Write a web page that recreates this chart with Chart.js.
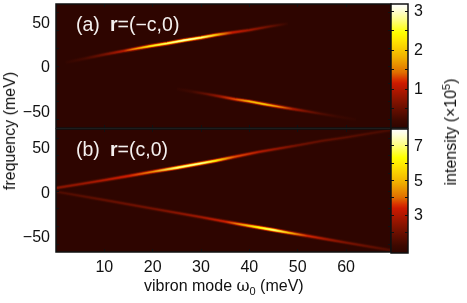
<!DOCTYPE html>
<html>
<head>
<meta charset="utf-8">
<script src="https://cdn.jsdelivr.net/npm/chart.js@4"></script>
<style>
  body { margin: 0; background: #fff; width: 467px; height: 303px; overflow: hidden; position: relative; font-family: "Liberation Sans", sans-serif; color: #111; }
  canvas { position: absolute; }
  .label { position: absolute; font-size: 16px; white-space: nowrap; line-height: 18px; }
  .panel { color: #f4f0ee; font-size: 19.5px; }
  .rot { transform: translate(-50%, -50%) rotate(-90deg); }
  .greek { font-family: "DejaVu Serif", serif; font-size: 16px; }
  sub, sup { font-size: 11px; line-height: 0; }
</style>
</head>
<body>
<canvas id="panelA" width="393" height="130" style="left:0px;top:0px"></canvas>
<canvas id="panelB" width="393" height="155" style="left:0px;top:125px"></canvas>
<canvas id="barA" width="78" height="130" style="left:389px;top:0px"></canvas>
<canvas id="barB" width="78" height="130" style="left:389px;top:125px"></canvas>

<div class="label panel" style="left:76px;top:15px">(a)</div>
<div class="label panel" style="left:110px;top:15px"><b>r</b>=(−c,0)</div>
<div class="label panel" style="left:76px;top:140px">(b)</div>
<div class="label panel" style="left:110px;top:140px"><b>r</b>=(c,0)</div>
<div class="label rot" style="left:10px;top:131px">frequency (meV)</div>
<div class="label rot" style="left:451px;top:132px">intensity (×10<sup>5</sup>)</div>
<div class="label" style="left:144px;top:277px">vibron mode <span class="greek">ω</span><sub>0</sub> (meV)</div>

<script>
// Ridges: vibron mode, frequency and peak intensity per sample
const omegaUpperA = [2, 6, 10, 14, 16, 19.5, 23, 26.5, 30, 33, 36.5, 40, 44, 48];
const freqUpperA = [4, 8.5, 13, 17, 19, 22.5, 25.5, 29, 32, 35, 37.8, 40.5, 44.5, 47.8];
const intensityUpperA = [0.05, 0.25, 0.55, 1.0, 1.6, 2.3, 2.7, 2.95, 2.8, 2.0, 1.1, 0.85, 0.5, 0.05];

const omegaLowerA = [25, 28, 31, 34, 37, 40, 43, 46, 49, 52, 55, 58, 62];
const freqLowerA = [-26, -28.8, -31.5, -34.4, -37.5, -40, -43, -45.8, -48.5, -51.2, -54, -56.8, -60.6];
const intensityLowerA = [0.05, 0.2, 0.45, 0.8, 1.3, 1.9, 2.0, 1.6, 0.9, 0.55, 0.3, 0.15, 0.05];

const omegaUpperB = [0, 5, 10, 15, 20, 25, 30, 33, 37, 42, 50, 55, 60, 65, 69.3];
const freqUpperB = [3.5, 8, 12.5, 17.2, 22, 26.5, 31.5, 34.5, 39, 44.5, 52, 57, 61, 65.5, 69.3];
const intensityUpperB = [2.4, 2.6, 3.0, 3.4, 4.4, 7, 7.3, 6, 3.8, 3.0, 2.0, 1.8, 1.7, 1.5, 1.4];

const omegaLowerB = [0, 10, 20, 30, 35, 38, 42, 45, 48, 52, 56, 60, 65, 69.3];
const freqLowerB = [-0.5, -10, -19.8, -29.5, -34.5, -37.5, -41.2, -44, -47, -50.7, -54.5, -58.3, -63, -67];
const intensityLowerB = [1.5, 1.8, 2.1, 2.7, 3.4, 4.5, 6.3, 7, 5.3, 3.5, 2.7, 2.2, 1.8, 1.5];

// Colour bar ranges and ticks
const rangeA = [0, 3.18];
const rangeB = [0.81, 7.97];
const barTicksA = [0.5, 1, 1.5, 2, 2.5, 3];
const barLabelsA = [1, 2, 3];
const barTicksB = [2, 3, 4, 5, 6, 7];
const barLabelsB = [3, 5, 7];

// Frequency axis: the tick marks and the numbers do not coincide in the reference
const freqTickMarks = [-60, -40, -20, 0, 20, 40, 60];
const freqLabels = [-50, 0, 50];

// Colour map as [fraction of bar, colour]
const colormap = [
  [0, '#2e0500'], [0.06, '#3d0800'], [0.23, '#8a1400'], [0.36, '#cc1a00'], [0.39, '#d83000'],
  [0.45, '#e07000'], [0.57, '#f0b000'], [0.71, '#ffe800'], [0.77, '#ffff00'], [0.87, '#ffff80'],
  [0.95, '#ffffd8'], [1, '#ffffff']
];

// Line layers that fake the soft profile of a ridge: [intensity share, width]
// The first dataset is drawn on top, so the narrow bright core comes first
const ridgeLayers = [[1, 1.4], [0.75, 2.4], [0.45, 3.4], [0.25, 4.6]];

const INK = '#111';
const FONT = { family: '"Liberation Sans", sans-serif', size: 16 };

function hexToRgb(hex) {
  return [1, 3, 5].map(i => parseInt(hex.slice(i, i + 2), 16));
}

function colorAt(f) {
  const v = Math.max(0, Math.min(1, f));
  for (let i = 1; i < colormap.length; i++) {
    if (v <= colormap[i][0]) {
      const [f0, c0] = colormap[i - 1];
      const [f1, c1] = colormap[i];
      const t = (v - f0) / (f1 - f0);
      const a = hexToRgb(c0), b = hexToRgb(c1);
      return `rgb(${a.map((n, j) => Math.round(n + (b[j] - n) * t)).join(',')})`;
    }
  }
  return colormap[colormap.length - 1][1];
}

// Gradient along the x scale so a ridge brightens between its samples
function ridgeGradient(ctx, omega, intensity, range, share) {
  const { chart } = ctx;
  const x = chart.scales.x;
  if (!chart.chartArea || x.left === undefined) return colorAt(0);
  const first = omega[0], last = omega[omega.length - 1];
  const g = chart.ctx.createLinearGradient(x.getPixelForValue(first), 0, x.getPixelForValue(last), 0);
  omega.forEach((w, i) => {
    const f = (intensity[i] - range[0]) / (range[1] - range[0]);
    g.addColorStop((w - first) / (last - first), colorAt(f * share));
  });
  return g;
}

function ridgeDatasets(omega, freq, intensity, range) {
  return ridgeLayers.map(([share, width]) => ({
    type: 'line',
    data: omega.map((w, i) => ({ x: w, y: freq[i] })),
    borderColor: ctx => ridgeGradient(ctx, omega, intensity, range, share),
    borderWidth: width,
    borderCapStyle: 'butt',
    pointRadius: 0,
    tension: 0
  }));
}

// Chart background and frame
const framePlugin = {
  id: 'frame',
  beforeDraw(chart) {
    const { left, top, width, height } = chart.chartArea;
    chart.ctx.fillStyle = colormap[0][1];
    chart.ctx.fillRect(left, top, width, height);
  },
  afterDraw(chart) {
    const { left, top, width, height } = chart.chartArea;
    chart.ctx.strokeStyle = INK;
    chart.ctx.lineWidth = 1.5;
    chart.ctx.strokeRect(left, top, width, height);
  }
};

// Tick labels must not push the plot area inwards
function fixSize(axis, key, size) {
  axis[key] = size;
  axis.paddingTop = axis.paddingBottom = axis.paddingLeft = axis.paddingRight = 0;
}

// Inward tick marks are a negative tickLength, drawn over the data
function tickGrid(isMark) {
  return {
    drawOnChartArea: false,
    tickLength: -3,
    tickWidth: 1,
    tickColor: ctx => (isMark(ctx.tick.value) ? '#111' : 'rgba(0,0,0,0)'),
    z: 1
  };
}

function valueAxis(position, range, marks, labels, size, labelOffset) {
  const all = [...new Set([...marks, ...labels])].sort((a, b) => a - b);
  return {
    type: 'linear',
    position,
    min: range[0],
    max: range[1],
    border: { display: false },
    grid: tickGrid(v => marks.includes(v)),
    ticks: {
      display: size > 0,
      autoSkip: false,
      font: FONT,
      color: INK,
      padding: 9,
      labelOffset: labelOffset || 0,
      callback: v => (labels.includes(v) ? String(v).replace('-', '−') : '')
    },
    afterBuildTicks: axis => { axis.ticks = all.map(value => ({ value })); },
    afterFit: axis => fixSize(axis, 'width', size)
  };
}

function omegaAxis(position, size) {
  return {
    type: 'linear',
    position,
    min: 0,
    max: 69.3,
    border: { display: false },
    grid: tickGrid(v => v > 0),
    ticks: {
      display: size > 0,
      stepSize: 10,
      includeBounds: false,
      maxRotation: 0,
      font: FONT,
      color: INK,
      padding: 9,
      callback: v => (v === 0 ? '' : v)
    },
    afterFit: axis => fixSize(axis, 'height', size)
  };
}

function panelChart(id, datasets, yRange, bottomSize, padding) {
  new Chart(document.getElementById(id), {
    type: 'line',
    data: { datasets },
    options: {
      responsive: false,
      animation: false,
      layout: { padding },
      plugins: { legend: { display: false }, tooltip: { enabled: false } },
      scales: {
        x: omegaAxis('bottom', bottomSize),
        xTop: omegaAxis('top', 0),
        y: valueAxis('left', yRange, freqTickMarks, freqLabels, 56, 2),
        yRight: valueAxis('right', yRange, freqTickMarks, [], 0)
      }
    },
    plugins: [framePlugin]
  });
}

function barGradient(ctx) {
  const area = ctx.chart.chartArea;
  if (!area) return colorAt(0);
  const g = ctx.chart.ctx.createLinearGradient(0, area.bottom, 0, area.top);
  colormap.forEach(([f, c]) => g.addColorStop(f, c));
  return g;
}

function barChart(id, range, marks, labels) {
  new Chart(document.getElementById(id), {
    type: 'bar',
    data: {
      labels: ['intensity'],
      datasets: [{
        data: [range],
        backgroundColor: barGradient,
        barPercentage: 1,
        categoryPercentage: 1
      }]
    },
    options: {
      responsive: false,
      animation: false,
      layout: { padding: { left: 2, top: 4, bottom: 2, right: 0 } },
      plugins: { legend: { display: false }, tooltip: { enabled: false } },
      scales: {
        x: { display: false },
        y: valueAxis('left', range, marks, [], 0),
        yRight: valueAxis('right', range, marks, labels, 59, 1)
      }
    },
    plugins: [framePlugin]
  });
}

panelChart('panelA', [
  ...ridgeDatasets(omegaUpperA, freqUpperA, intensityUpperA, rangeA),
  ...ridgeDatasets(omegaLowerA, freqLowerA, intensityLowerA, rangeA)
], [-70, 70], 0, { top: 4, bottom: 2, right: 2 });

panelChart('panelB', [
  ...ridgeDatasets(omegaUpperB, freqUpperB, intensityUpperB, rangeB),
  ...ridgeDatasets(omegaLowerB, freqLowerB, intensityLowerB, rangeB)
], [-69, 70.5], 28, { top: 4, right: 2 });

barChart('barA', rangeA, barTicksA, barLabelsA);
barChart('barB', rangeB, barTicksB, barLabelsB);
</script>
</body>
</html>
